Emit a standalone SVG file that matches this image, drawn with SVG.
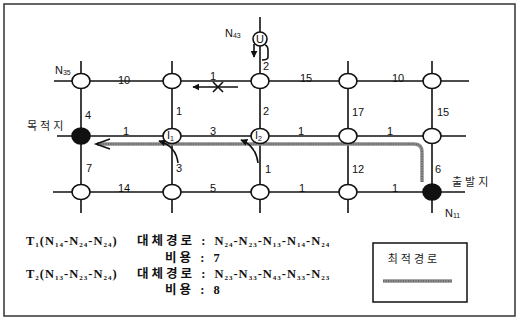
<svg xmlns="http://www.w3.org/2000/svg" width="519" height="320" viewBox="0 0 519 320">
<defs>
<style>
.ln{stroke:#111;stroke-width:1.6;fill:none}
.nd{fill:#fff;stroke:#111;stroke-width:1.6}
.bk{fill:#111;stroke:#111;stroke-width:1.6}
.lb{font-family:"Liberation Sans",Arial,sans-serif;font-size:11px;fill:#111}
.nm{font-family:"Liberation Sans",Arial,sans-serif;font-size:11px;fill:#111}
.kr{font-family:"Liberation Serif","Noto Sans CJK KR",serif;font-size:11px;fill:#222;letter-spacing:3px}
.tx{font-family:"Liberation Serif","Noto Sans CJK KR",serif;font-size:12.5px;font-weight:bold;fill:#111;letter-spacing:1px}
.k{letter-spacing:3px}
.sb{font-size:7px}
.rt{stroke:#8c8c8c;stroke-width:3.5;fill:none}
.rt2{stroke:#444;stroke-width:1;stroke-dasharray:1 1.5;fill:none}
</style>
<marker id="ah" viewBox="0 0 10 10" refX="9" refY="5" markerWidth="7" markerHeight="7" orient="auto-start-reverse" markerUnits="userSpaceOnUse">
<path d="M0,0 L10,5 L0,10 Z" fill="#111"/>
</marker>
</defs>
<rect x="4" y="4" width="511" height="312" fill="#fff" stroke="#333" stroke-width="1.5"/>
<g id="connectors">
<line class="ln" x1="54" y1="81" x2="469" y2="81"/>
<line class="ln" x1="57" y1="136" x2="466" y2="136"/>
<line class="ln" x1="53" y1="192" x2="465" y2="192"/>
<line class="ln" x1="81" y1="61" x2="81" y2="213"/>
<line class="ln" x1="172" y1="61" x2="172" y2="213"/>
<line class="ln" x1="260" y1="17" x2="260" y2="213"/>
<line class="ln" x1="348" y1="61" x2="348" y2="213"/>
<line class="ln" x1="432" y1="61" x2="432" y2="213"/>
<path class="ln" d="M265 45 Q268 46 268 50 L268 57 Q268 60 262 60"/>
<path class="ln" d="M254 44 L254 57" marker-end="url(#ah)"/>
<line class="ln" x1="238" y1="87" x2="193" y2="87" marker-end="url(#ah)"/>
<line class="ln" x1="213" y1="82" x2="223" y2="92"/>
<line class="ln" x1="213" y1="92" x2="223" y2="82"/>
<path class="rt" d="M422 182 L422 152 Q422 144 414 144 L97 144"/>
<path class="rt2" d="M422 182 L422 152 Q422 144 414 144 L97 144"/>
<polyline class="ln" points="110,139 96,144 110,149" stroke="#555"/>
<path class="ln" d="M178 163 Q176 146 159 141" marker-end="url(#ah)"/>
<path class="ln" d="M258 163 Q256 146 241 140" marker-end="url(#ah)"/>
</g>
<g id="edge-labels">
<text class="lb" x="118" y="84">10</text>
<text class="lb" x="210" y="80">1</text>
<text class="lb" x="300" y="82">15</text>
<text class="lb" x="392" y="82">10</text>
<text class="lb" x="263" y="70">2</text>
<text class="lb" x="85" y="119">4</text>
<text class="lb" x="176" y="115">1</text>
<text class="lb" x="263" y="115">2</text>
<text class="lb" x="352" y="116">17</text>
<text class="lb" x="437" y="116">15</text>
<text class="lb" x="123" y="135">1</text>
<text class="lb" x="210" y="135">3</text>
<text class="lb" x="298" y="135">1</text>
<text class="lb" x="387" y="135">1</text>
<text class="lb" x="86" y="172">7</text>
<text class="lb" x="176" y="172">3</text>
<text class="lb" x="265" y="173">1</text>
<text class="lb" x="352" y="173">12</text>
<text class="lb" x="435" y="173">6</text>
<text class="lb" x="118" y="192">14</text>
<text class="lb" x="210" y="192">5</text>
<text class="lb" x="299" y="192">1</text>
<text class="lb" x="392" y="192">1</text>
</g>
<g id="n-r1c1"><ellipse class="nd" cx="81" cy="81" rx="9" ry="7.5"/></g>
<g id="n-r1c2"><ellipse class="nd" cx="172" cy="81" rx="9" ry="7.5"/></g>
<g id="n-r1c3"><ellipse class="nd" cx="260" cy="81" rx="9" ry="7.5"/></g>
<g id="n-r1c4"><ellipse class="nd" cx="348" cy="81" rx="9" ry="7.5"/></g>
<g id="n-r1c5"><ellipse class="nd" cx="432" cy="81" rx="9" ry="7.5"/></g>
<g id="n-dest"><ellipse class="bk" cx="81" cy="136" rx="9" ry="8"/></g>
<g id="n-I1"><ellipse class="nd" cx="172" cy="136" rx="9" ry="7.5"/><text class="nm" x="167" y="139" font-size="8">I<tspan class="sb" dy="2">1</tspan></text></g>
<g id="n-I2"><ellipse class="nd" cx="260" cy="136" rx="9" ry="7.5"/><text class="nm" x="255" y="139" font-size="8">I<tspan class="sb" dy="2">2</tspan></text></g>
<g id="n-r2c4"><ellipse class="nd" cx="348" cy="136" rx="9" ry="7.5"/></g>
<g id="n-r2c5"><ellipse class="nd" cx="432" cy="136" rx="9" ry="7.5"/></g>
<g id="n-r3c1"><ellipse class="nd" cx="81" cy="192" rx="9" ry="7.5"/></g>
<g id="n-r3c2"><ellipse class="nd" cx="172" cy="192" rx="9" ry="7.5"/></g>
<g id="n-r3c3"><ellipse class="nd" cx="260" cy="192" rx="9" ry="7.5"/></g>
<g id="n-r3c4"><ellipse class="nd" cx="348" cy="192" rx="9" ry="7.5"/></g>
<g id="n-src"><ellipse class="bk" cx="432" cy="192" rx="9" ry="8"/></g>
<g id="n-N43"><circle class="nd" cx="260" cy="39" r="7"/><text class="nm" x="260" y="43" font-size="10" text-anchor="middle">U</text></g>
<g id="labels">
<text class="nm" x="55" y="74">N<tspan class="sb" dy="1">35</tspan></text>
<text class="nm" x="225" y="37">N<tspan class="sb" dy="1">43</tspan></text>
<text class="nm" x="445" y="217">N<tspan class="sb" dy="1">11</tspan></text>
<text class="kr" x="27" y="130">목적지</text>
<text class="kr" x="452" y="186">출발지</text>
</g>
<g id="text-block">
<text class="tx" x="26" y="245">T<tspan class="sb" dy="2">1</tspan><tspan dy="-2">(N</tspan><tspan class="sb" dy="2">14</tspan><tspan dy="-2">-N</tspan><tspan class="sb" dy="2">24</tspan><tspan dy="-2">-N</tspan><tspan class="sb" dy="2">24</tspan><tspan dy="-2">)</tspan></text>
<text class="tx" x="137" y="245"><tspan class="k">대체경로 : </tspan>N<tspan class="sb" dy="2">24</tspan><tspan dy="-2">-N</tspan><tspan class="sb" dy="2">23</tspan><tspan dy="-2">-N</tspan><tspan class="sb" dy="2">13</tspan><tspan dy="-2">-N</tspan><tspan class="sb" dy="2">14</tspan><tspan dy="-2">-N</tspan><tspan class="sb" dy="2">24</tspan></text>
<text class="tx k" x="165" y="262">비용 : 7</text>
<text class="tx" x="26" y="278">T<tspan class="sb" dy="2">2</tspan><tspan dy="-2">(N</tspan><tspan class="sb" dy="2">13</tspan><tspan dy="-2">-N</tspan><tspan class="sb" dy="2">23</tspan><tspan dy="-2">-N</tspan><tspan class="sb" dy="2">24</tspan><tspan dy="-2">)</tspan></text>
<text class="tx" x="137" y="278"><tspan class="k">대체경로 : </tspan>N<tspan class="sb" dy="2">23</tspan><tspan dy="-2">-N</tspan><tspan class="sb" dy="2">33</tspan><tspan dy="-2">-N</tspan><tspan class="sb" dy="2">43</tspan><tspan dy="-2">-N</tspan><tspan class="sb" dy="2">33</tspan><tspan dy="-2">-N</tspan><tspan class="sb" dy="2">23</tspan></text>
<text class="tx k" x="165" y="294">비용 : 8</text>
</g>
<g id="legend">
<rect x="373" y="243" width="94" height="59" fill="#fff" stroke="#111" stroke-width="1.5"/>
<text class="kr" x="414" y="263" text-anchor="middle">최적경로</text>
<line class="rt" x1="383" y1="281" x2="452" y2="281" stroke-width="2.5"/>
<line class="rt2" x1="383" y1="281" x2="452" y2="281"/>
</g>
</svg>
